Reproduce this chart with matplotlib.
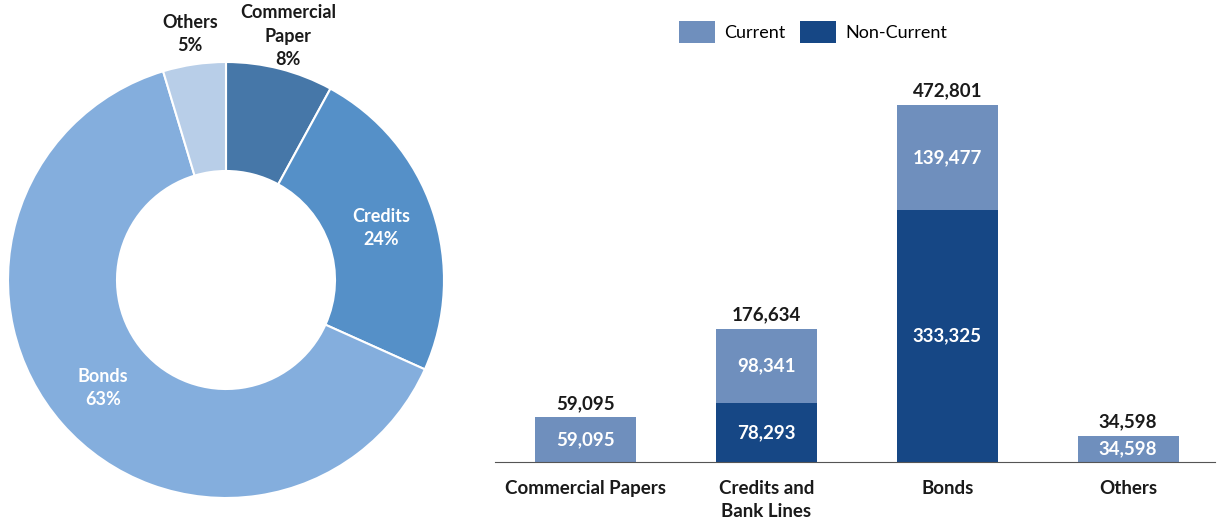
import matplotlib
matplotlib.use('Agg')
import matplotlib.pyplot as plt
import numpy as np

plt.rcParams['font.family'] = ['Lato', 'DejaVu Sans']

# donut data
pie_labels = ['Commercial\nPaper', 'Credits', 'Bonds', 'Others']
pie_values = [59095, 176634, 472801, 34598]
pie_pct = [8, 24, 63, 5]
pie_colors = ['#4677A8', '#5590C8', '#84AEDD', '#B8CEE8']

# bar data
categories = ['Commercial Papers', 'Credits and\nBank Lines', 'Bonds', 'Others']
non_current = [0, 78293, 333325, 0]
current = [59095, 98341, 139477, 34598]
totals = [59095, 176634, 472801, 34598]
c_current = '#6F8FBD'
c_noncurrent = '#164785'


def main():
    fig = plt.figure(figsize=(12.17, 5.25), dpi=100)

    # donut
    ax1 = fig.add_axes([8 / 1217, 27 / 525, 436 / 1217, 436 / 525])
    wedges, _ = ax1.pie(pie_values, colors=pie_colors, startangle=90, counterclock=False,
                        wedgeprops=dict(width=0.5, edgecolor='white', linewidth=1.5))
    ax1.set_xlim(-1, 1)
    ax1.set_ylim(-1, 1)
    label_r = [1.155, 0.75, 0.75, 1.14]
    for w, lab, p, r in zip(wedges, pie_labels, pie_pct, label_r):
        ang = np.deg2rad((w.theta1 + w.theta2) / 2)
        col = 'white' if r < 1 else '#1a1a1a'
        ax1.text(r * np.cos(ang), r * np.sin(ang), lab + '\n' + '%d%%' % p, ha='center', va='center',
                 fontsize=13, fontweight='bold', color=col, linespacing=1.45, clip_on=False)

    # stacked bars
    ax2 = fig.add_axes([495 / 1217, 63 / 525, 720 / 1217, 393 / 525])
    x = np.arange(len(categories))
    w = 0.56
    b1 = ax2.bar(x, non_current, w, color=c_noncurrent, label='Non-Current')
    b2 = ax2.bar(x, current, w, bottom=non_current, color=c_current, label='Current')
    ax2.set_xlim(-0.5, 3.48)
    ax2.set_ylim(0, 520000)
    for i in range(len(categories)):
        if non_current[i]:
            ax2.text(x[i], non_current[i] / 2, f'{non_current[i]:,}', ha='center', va='center',
                     color='white', fontsize=13.5, fontweight='bold')
        ax2.text(x[i], non_current[i] + current[i] / 2, f'{current[i]:,}', ha='center', va='center',
                 color='white', fontsize=13.5, fontweight='bold')
        ax2.annotate(f'{totals[i]:,}', (x[i], non_current[i] + current[i]), xytext=(0, 4),
                     textcoords='offset points', ha='center', va='bottom', fontsize=13.5,
                     fontweight='bold', color='#1a1a1a')
    for s in ['top', 'right', 'left']:
        ax2.spines[s].set_visible(False)
    ax2.spines['bottom'].set_color('#555555')
    ax2.set_yticks([])
    ax2.set_xticks(x)
    ax2.set_xticklabels(categories, fontsize=13.5, fontweight='bold', color='#1a1a1a', linespacing=1.4)
    ax2.tick_params(axis='x', length=0, pad=13)

    fig.legend([b2, b1], ['Current', 'Non-Current'], loc='center', bbox_to_anchor=(813 / 1217, 1 - 32 / 525),
               ncol=2, frameon=False, fontsize=13, handlelength=2.0, handleheight=1.5,
               columnspacing=0.8, handletextpad=0.5)

    fig.savefig('out.png', dpi=100)


if __name__ == '__main__':
    main()
